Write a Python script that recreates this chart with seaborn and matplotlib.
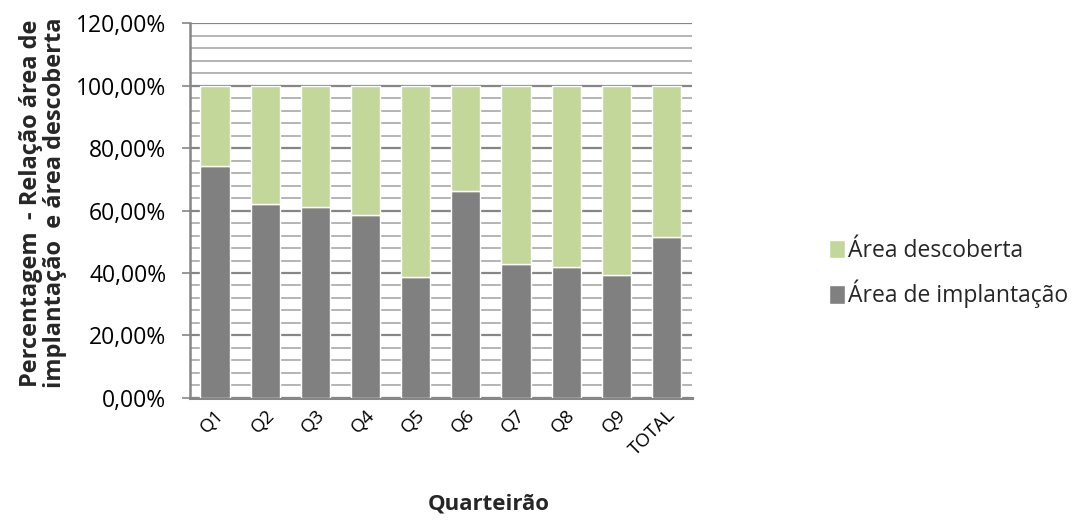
import matplotlib
matplotlib.use("Agg")
import matplotlib.pyplot as plt
from matplotlib.ticker import MultipleLocator, FuncFormatter
from matplotlib.patches import Patch
import seaborn as sns
import pandas as pd

# Share of each block (quarteirão) occupied by buildings vs. open area, in %
quarteiroes = ["Q1", "Q2", "Q3", "Q4", "Q5", "Q6", "Q7", "Q8", "Q9", "TOTAL"]
area_implantacao = [74.3, 62.1, 61.2, 58.6, 38.7, 66.4, 42.9, 41.9, 39.5, 51.6]
area_descoberta = [25.7, 37.9, 38.8, 41.4, 61.3, 33.6, 57.1, 58.1, 60.5, 48.4]

COR_IMPL = "#808080"
COR_DESC = "#c4d79b"

sns.set_theme(style="white")
plt.rcParams["font.family"] = ["Open Sans", "DejaVu Sans"]

df = pd.DataFrame({
    "Quarteirão": quarteiroes,
    "impl": area_implantacao,
    "desc": area_descoberta,
})

fig = plt.figure(figsize=(10.79, 5.25), dpi=100)
ax = fig.add_axes([0.176, 0.242, 0.465, 0.714])

sns.barplot(data=df, x="Quarteirão", y="impl", color=COR_IMPL, width=0.58,
            saturation=1, ax=ax, zorder=3)
sns.barplot(data=df, x="Quarteirão", y="desc", color=COR_DESC, width=0.58,
            saturation=1, ax=ax, bottom=df["impl"], zorder=3)

ax.set_ylim(0, 120)
ax.set_xlim(-0.5, len(quarteiroes) - 0.5)
ax.yaxis.set_major_locator(MultipleLocator(20))
ax.yaxis.set_minor_locator(MultipleLocator(4))
ax.yaxis.set_major_formatter(FuncFormatter(lambda v, _: f"{v:.2f}%".replace(".", ",")))

ax.grid(True, which="major", axis="y", color="#868686", linewidth=1.6, zorder=0)
ax.grid(True, which="minor", axis="y", color="#b4b4b4", linewidth=1.4, zorder=0)
ax.set_axisbelow(True)

for side in ("top", "right"):
    ax.spines[side].set_visible(False)
ax.spines["left"].set_color("#868686")
ax.spines["left"].set_linewidth(1.8)
ax.spines["bottom"].set_color("#868686")
ax.spines["bottom"].set_linewidth(2.2)

ax.tick_params(axis="y", which="major", left=True, length=6, width=1.2,
               color="#868686", labelsize=16.5, labelcolor="black", pad=11)
ax.tick_params(axis="y", which="minor", left=False)
ax.tick_params(axis="x", length=0, labelsize=13.5, labelcolor="black", pad=6)
for lbl in ax.get_xticklabels():
    lbl.set_rotation(45)
    lbl.set_ha("right")
    lbl.set_rotation_mode("anchor")

ax.set_xlabel("Quarteirão", fontsize=16, fontweight="bold")
ax.xaxis.set_label_coords(0.596, -0.255)
ax.set_ylabel("Percentagem  - Relação área de\nimplantação  e área descoberta",
              fontsize=17, fontweight="bold", linespacing=1.0)
ax.yaxis.set_label_coords(-0.245, 0.52)

handles = [Patch(facecolor=COR_DESC, label="Área descoberta"),
           Patch(facecolor=COR_IMPL, label="Área de implantação")]
fig.legend(handles=handles, loc="center left", bbox_to_anchor=(0.749, 0.479),
           frameon=False, fontsize=16.5, handlelength=0.7, handleheight=0.85,
           handletextpad=0.15, labelspacing=0.75)

fig.savefig("out.png", dpi=100)
